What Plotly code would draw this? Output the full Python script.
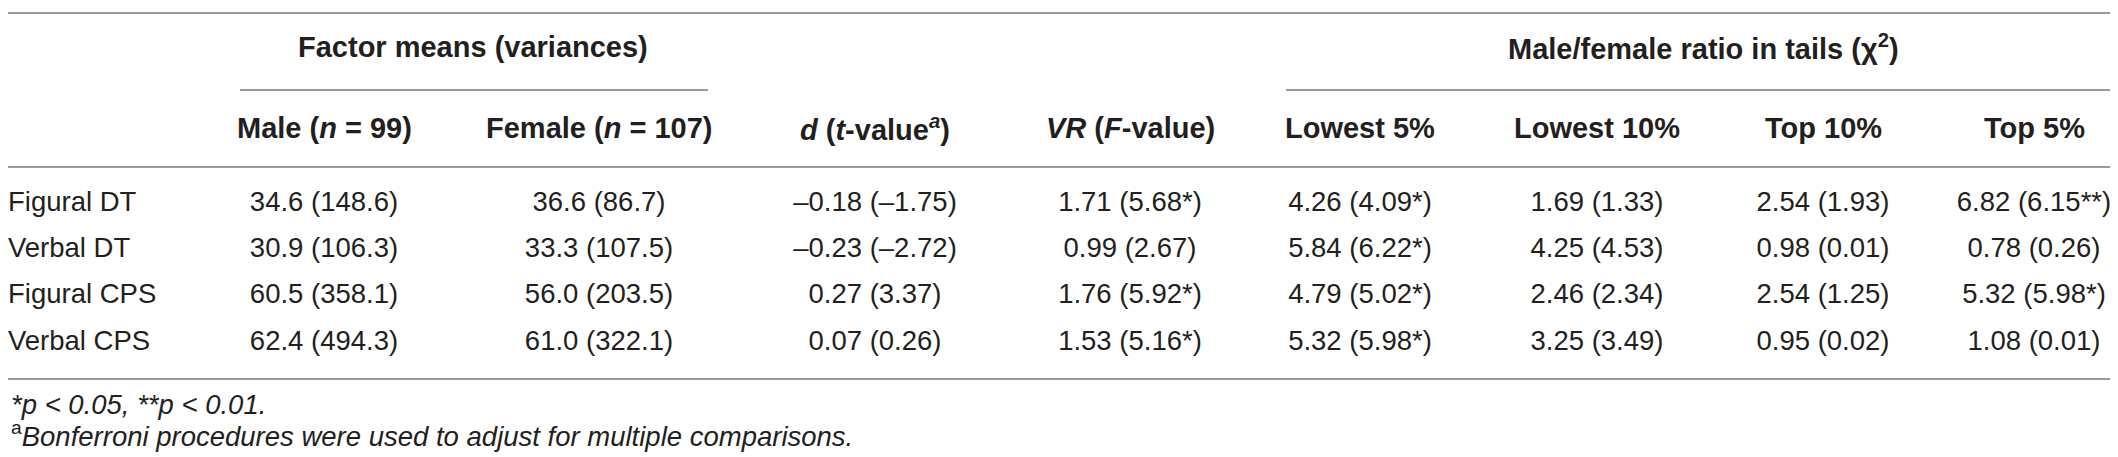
import plotly.graph_objects as go

# table content
row_labels = ["Figural DT", "Verbal DT", "Figural CPS", "Verbal CPS"]
male = ["34.6 (148.6)", "30.9 (106.3)", "60.5 (358.1)", "62.4 (494.3)"]
female = ["36.6 (86.7)", "33.3 (107.5)", "56.0 (203.5)", "61.0 (322.1)"]
d_t = ["–0.18 (–1.75)", "–0.23 (–2.72)", "0.27 (3.37)", "0.07 (0.26)"]
vr_f = ["1.71 (5.68*)", "0.99 (2.67)", "1.76 (5.92*)", "1.53 (5.16*)"]
lowest5 = ["4.26 (4.09*)", "5.84 (6.22*)", "4.79 (5.02*)", "5.32 (5.98*)"]
lowest10 = ["1.69 (1.33)", "4.25 (4.53)", "2.46 (2.34)", "3.25 (3.49)"]
top10 = ["2.54 (1.93)", "0.98 (0.01)", "2.54 (1.25)", "0.95 (0.02)"]
top5 = ["6.82 (6.15**)", "0.78 (0.26)", "5.32 (5.98*)", "1.08 (0.01)"]

col_headers = [
    "<b>Male (<i>n</i> = 99)</b>",
    "<b>Female (<i>n</i> = 107)</b>",
    "<b><i>d</i> (<i>t</i>-value<sup><i>a</i></sup>)</b>",
    "<b><i>VR</i> (<i>F</i>-value)</b>",
    "<b>Lowest 5%</b>",
    "<b>Lowest 10%</b>",
    "<b>Top 10%</b>",
    "<b>Top 5%</b>",
]
group_headers = ["<b>Factor means (variances)</b>", "<b>Male/female ratio in tails (χ<sup>2</sup>)</b>"]
footnotes = [
    "<i>*p < 0.05, **p < 0.01.</i>",
    "<sup>a</sup><i>Bonferroni procedures were used to adjust for multiple comparisons.</i>",
]

W, H = 2118, 457
FONT = "Liberation Sans, Arial, Helvetica, sans-serif"
INK = "#231f20"
LINE = "#9a9a9a"
BODY = 27.5
HEAD = 29

col_x = [316, 591, 867, 1122, 1352, 1589, 1815, 2026]
row_y = [196, 242, 288, 335]

fig = go.Figure()

fig.add_trace(go.Scatter(
    x=[0] * len(row_labels), y=row_y, text=row_labels,
    mode="text", textposition="middle right", cliponaxis=False,
    textfont=dict(family=FONT, size=BODY, color=INK), hoverinfo="skip",
))

columns = [male, female, d_t, vr_f, lowest5, lowest10, top10, top5]
for cx, vals in zip(col_x, columns):
    fig.add_trace(go.Scatter(
        x=[cx] * len(vals), y=row_y, text=vals,
        mode="text", textposition="middle center", cliponaxis=False,
        textfont=dict(family=FONT, size=BODY, color=INK), hoverinfo="skip",
    ))

# header row
for cx, h in zip(col_x, col_headers):
    fig.add_annotation(x=cx, y=120, text=h, showarrow=False,
                       xanchor="center", yanchor="middle",
                       font=dict(family=FONT, size=HEAD, color=INK))

fig.add_annotation(x=465, y=39, text=group_headers[0], showarrow=False,
                   xanchor="center", yanchor="middle",
                   font=dict(family=FONT, size=HEAD, color=INK))
fig.add_annotation(x=1695, y=39, text=group_headers[1], showarrow=False,
                   xanchor="center", yanchor="middle",
                   font=dict(family=FONT, size=HEAD, color=INK))

for fy, ft in zip([396, 426], footnotes):
    fig.add_annotation(x=1, y=fy, text=ft, showarrow=False,
                       xanchor="left", yanchor="middle",
                       font=dict(family=FONT, size=BODY, color=INK))

# rules
rules = [(0, W, 5), (232, 700, 82), (1278, 2113, 82), (0, W, 159), (0, W, 371)]
for x0, x1, yy in rules:
    fig.add_shape(type="line", x0=x0, x1=x1, y0=yy, y1=yy,
                  line=dict(color=LINE, width=2), xref="x", yref="y")

fig.update_layout(
    width=W, height=H,
    margin=dict(l=0, r=0, t=0, b=0),
    paper_bgcolor="white", plot_bgcolor="white",
    showlegend=False,
    xaxis=dict(range=[0, W], visible=False, fixedrange=True),
    yaxis=dict(range=[H, 0], visible=False, fixedrange=True),
)

fig.write_html("out.html", config={"displayModeBar": False})
